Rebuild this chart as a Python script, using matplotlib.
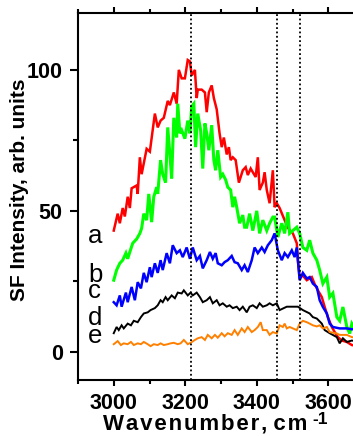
import matplotlib
matplotlib.use("Agg")
import matplotlib.pyplot as plt
from matplotlib.ticker import MultipleLocator

plt.rcParams['font.family'] = ['Liberation Sans', 'DejaVu Sans']

# ---- data (wavenumber in cm-1, SF intensity in arb. units) ----
wn_a = [3000,3011,3017,3025,3031,3039,3045,3050,3064,3067,3073,3078,3092,3101,3115,3123,3131,3140,3151,3157,
        3168,3176,3182,3190,3199,3207,3213,3218,3227,3232,3235,3246,3255,3260,3266,3274,3280,3288,3296,3302,
        3308,3316,3322,3327,3333,3341,3350,3361,3369,3375,3383,3389,3397,3403,3408,3417,3422,3428,3436,3445,
        3450,3456,3464,3478,3487,3501,3512,3515,3520,3529,3540,3554,3562,3571,3582,3590,3599,3610,3618,3627,
        3638,3652,3666,3685]
int_a = [43,49,45.6,51,48,55,51,58,59,56,69,63,72,71,84.5,79.6,82,83,89,87.5,
         92,88,100,97,97,103.5,103,98,100,90,93,93,92,85,92,94.5,90,86,77.5,72.6,
         76,70,72.6,68,69,68,60,64.4,65.5,62.7,65,63.7,62,69,57.4,60,63.7,57.4,52.7,64.4,
         51.3,52.7,51,46.7,44,42,38.5,32.5,26.5,27,25.4,26.5,24,21.8,19.4,15.9,12.3,8.8,7,5.2,
         4,3.5,2.4,2]

wn_b = [3000,3008,3017,3025,3034,3039,3045,3053,3064,3073,3078,3084,3092,3098,3106,3112,3120,3123,3131,3137,
        3145,3151,3157,3162,3168,3176,3179,3185,3190,3199,3207,3213,3218,3224,3229,3235,3243,3249,3255,3260,
        3266,3274,3280,3285,3291,3299,3305,3313,3319,3327,3333,3338,3344,3352,3361,3366,3372,3380,3389,3400,
        3408,3417,3428,3436,3445,3450,3459,3470,3478,3487,3492,3501,3512,3520,3529,3540,3548,3557,3568,3576,
        3585,3596,3604,3613,3624,3632,3641,3652,3660,3666,3685]
int_b = [25.4,29,31.4,32.5,35,33,35.4,38.5,40,42,43.8,49,46.7,56,46,55,58.4,56,68,63,
         60,79.6,70,61.5,83,76,88,77.5,78.6,75.6,82,77.5,87,88,72.6,84.5,78.6,65,81,77.5,
         71.5,80.4,68,64.4,71.5,62,63,61,58.4,57.4,51.3,55,51.3,45.6,48.5,44.2,44.2,49,43,50,
         42,46.7,43,45.6,47.8,47.8,40.7,45.6,42,49.5,42,43,44.2,42,37,36,39.6,35,32.5,29,
         24.2,26.5,19.4,20.8,12.3,11,15.9,8.8,6.5,10,6]

wn_c = [3000,3008,3017,3022,3034,3039,3050,3059,3067,3076,3084,3092,3101,3106,3115,3123,3131,3137,3148,3157,
        3165,3176,3185,3193,3204,3213,3221,3232,3241,3249,3260,3269,3277,3285,3291,3302,3310,3319,3330,3338,
        3347,3358,3366,3375,3386,3394,3403,3414,3422,3431,3442,3450,3459,3470,3478,3487,3498,3506,3512,3520,
        3529,3540,3548,3557,3568,3576,3585,3596,3604,3613,3632,3652,3666,3685]
int_c = [17.6,16.5,20,16,21,17.6,23,18.3,24.7,22.5,28,24.7,30,26.5,31.4,28,32.5,29,35,31.4,
         37.8,35,36,33.6,37,33,37,32.5,34,29.6,32.5,35.4,33,35,31.4,30.7,31.8,32.5,34,31.8,
         31.4,29,30.7,28.3,32.5,37,35,37,35.4,37.8,39.6,42,36,32.5,35,33.6,36,33.6,37,25.4,
         28,26,26.5,24.2,23,18.3,15.9,13.6,10,8.8,8.3,8.3,8,8]

wn_d = [3000,3008,3014,3022,3028,3039,3048,3056,3067,3076,3084,3095,3103,3115,3123,3131,3137,3145,3151,3162,
        3171,3179,3190,3196,3207,3215,3221,3232,3241,3249,3260,3269,3277,3288,3296,3305,3316,3324,3333,3344,
        3352,3361,3372,3380,3389,3400,3408,3417,3428,3436,3445,3456,3464,3484,3501,3515,3529,3548,3557,3568,
        3582,3590,3604,3624,3632,3641,3652,3666,3685]
int_d = [6.6,8.8,7.7,9.4,8.3,10,9.4,11,10.5,12.3,13.6,14,14.8,15.5,16.5,18.3,17.6,19.4,18.3,20,
         19,21,20.7,21.8,20,21,20,21,19.4,17.6,18.3,19.4,17.2,18.3,16.5,17.2,16,16.5,15.5,16,
         14.8,16,14,16,16.5,15.5,17.2,16,16.5,17.2,16.5,17.2,14.8,16,16,16,14.8,13.6,12.3,11.8,
         10,7.7,6.6,5.2,3,4.8,3.5,4,3.5]

wn_e = [3000,3011,3020,3028,3039,3048,3056,3067,3076,3084,3095,3103,3112,3123,3131,3140,3151,3159,3168,3179,
        3187,3196,3207,3215,3227,3235,3246,3255,3263,3274,3283,3291,3302,3310,3319,3330,3338,3347,3358,3366,
        3375,3386,3394,3403,3411,3417,3428,3436,3445,3456,3464,3473,3478,3484,3492,3501,3512,3520,3529,3540,
        3548,3557,3568,3576,3585,3596,3604,3624,3632,3652,3666,3685]
int_e = [2.7,3.8,2.4,3,2.7,3.5,2.4,3,2.7,3.5,2.7,2,2.7,2.4,3,2.4,2.7,3,3.2,2.7,
         3,4.2,2.7,3.2,4.2,4.8,5.2,4.2,6,4.8,6,5,6.6,5.5,6.6,6,7.7,6,8.3,7,
         8.8,7,7.7,8.8,10.5,7.7,7.7,6,7,6.5,9.4,8.8,10,8.3,8.8,8.3,7.7,10,11,10.5,
         10,9.4,9,9.4,8.3,8.8,7,6.5,6,6,5.2,5]

series_labels = ['a', 'b', 'c', 'd', 'e']
series_colors = ['#ff0000', '#00ff00', '#0000ff', '#000000', '#ff8000']
label_y = [38.5, 24.7, 19.0, 9.4, 3.3]
marker_lines = [3217, 3456, 3522]
x_ticks = [3000, 3200, 3400, 3600]
y_ticks = [0, 50, 100]

# ---- figure ----
W, H = 353, 436
fig = plt.figure(figsize=(W / 100, H / 100), dpi=100)
ax = fig.add_axes([78 / W, (H - 380) / H, (364 - 78) / W, (380 - 13.5) / H])

xs = [wn_a, wn_b, wn_c, wn_d, wn_e]
ys = [int_a, int_b, int_c, int_d, int_e]
lws = [1.8, 2.2, 1.8, 1.4, 1.4]
for x, y, c, lw in zip(xs, ys, series_colors, lws):
    ax.plot(x, y, color=c, lw=lw, solid_joinstyle='miter')

for xv in marker_lines:
    ax.axvline(xv, color='black', lw=1.3, linestyle=(0, (1, 1.4)), zorder=5)

for lab, yv in zip(series_labels, label_y):
    ax.text(2928, yv, lab, fontsize=18.5, ha='left', va='baseline', color='black')

ax.set_xlim(2900, 3700)
ax.set_ylim(-10, 120)
ax.set_xticks(x_ticks)
ax.set_yticks(y_ticks)
ax.xaxis.set_minor_locator(MultipleLocator(100))
ax.yaxis.set_minor_locator(MultipleLocator(25))

for s in ax.spines.values():
    s.set_linewidth(1.5)
ax.spines['right'].set_visible(False)

ax.tick_params(axis='x', which='major', bottom=True, top=True, direction='out',
               length=4, width=1.5, pad=5, labelsize=15.5)
ax.tick_params(axis='x', which='minor', bottom=True, top=True, direction='out',
               length=3, width=1.5)
ax.tick_params(axis='y', which='major', left=True, right=False, direction='out',
               length=6, width=1.5, pad=5, labelsize=15.5)
ax.tick_params(axis='y', which='minor', left=True, right=False, direction='out',
               length=3.5, width=1.5)
for lbl in ax.get_xticklabels() + ax.get_yticklabels():
    lbl.set_fontweight('bold')

fig.text(20 / W, 1 - 190 / H, 'SF Intensity, arb. units', rotation=90,
         ha='center', va='center', fontsize=15, fontweight='bold')
fig.text(307 / W, 1 - 429 / H,
         'W\u200aa\u200av\u200ae\u200an\u200au\u200am\u200ab\u200ae\u200ar\u200a, c\u200am',
         ha='right', va='baseline', fontsize=16, fontweight='bold')
fig.text(312 / W, 1 - 424 / H, '-1', ha='left', va='baseline', fontsize=12.5, fontweight='bold')

fig.savefig('out.png', dpi=100)
